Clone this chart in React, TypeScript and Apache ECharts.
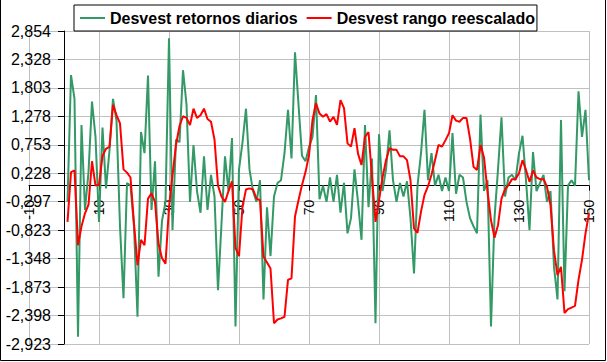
import React, { useEffect, useRef } from "react";
import * as echarts from "echarts";

const seriesNames = ["Desvest retornos diarios", "Desvest rango reescalado"];

const retornosDiarios = [
  -0.3, 2.04, 1.6, -2.79, 1.12, -0.45, 0.25, 1.55, 0.9, -0.67,
  1.07, -0.05, 0.65, 1.6, 1.2, -0.75, -2.08, 0.05, 0.0, -0.75,
  -2.42, 0.99, 0.6, 2.03, -0.45, 0.45, -1.68, -0.65, -0.3, 2.72,
  -0.82, 0.85, 0.8, 2.13, 1.5, -0.3, 0.75, -0.1, -0.5, 0.54,
  -0.45, 0.2, -0.2, -1.93, -0.7, 0.54, -0.1, 0.88, -2.6, 0.3,
  0.8, 1.42, 0.3, -0.1, -0.3, 0.1, -2.1, -0.4, -1.3, -0.2,
  0.05, 0.1, 0.6, 1.4, 0.5, 2.46, 1.5, 0.55, 0.45, 0.71,
  0.9, 1.67, -0.25, 0.0, -0.3, 0.15, -0.3, 0.2, -0.5, 0.05,
  -0.88, -0.6, 0.3, -0.3, -1.0, 1.12, -0.4, 0.5, -2.54, 0.95,
  -0.1, 0.3, 1.02, 0.1, -0.3, 0.05, -0.2, 0.08, -0.6, -1.62,
  0.0, 0.6, 1.4, 0.1, 0.6, 0.0, 0.2, -0.1, 0.15, -0.1,
  0.97, -0.15, 0.2, 0.15, -0.3, -0.6, -0.75, -0.88, 1.31, -0.1,
  0.1, -2.6, -0.6, 0.3, 1.26, -0.2, 0.15, 0.2, 0.1, 0.6,
  0.92, 0.1, -0.82, 0.62, -0.1, 0.05, 0.2, -0.3, -0.1, -1.5,
  -2.1, 1.21, -1.95, 0.0, 0.1, 0.0, 1.74, 0.9, 1.4, 0.1,
];

const rangoReescalado = [
  -0.67, 0.25, 0.28, -1.1, -0.75, -0.51, -0.35, 0.45, 0.0, 0.02,
  0.55, 0.68, 0.72, 1.49, 1.3, 1.15, 0.3, 0.24, 0.15, -0.7,
  -1.47, -1.0, -1.1, -0.24, -0.14, -0.3, -1.07, -1.34, -1.44, -0.4,
  0.2, 0.75, 1.1, 1.28, 1.25, 1.12, 1.42, 1.25, 1.3, 1.42,
  1.23, 1.18, 0.85, 0.0, -0.2, -0.3, -0.1, 0.08, -1.15, -1.3,
  -0.39, -0.07, -0.05, -0.07, -0.24, -0.27, -1.31, -1.42, -1.53, -2.54,
  -2.47, -2.45, -2.42, -1.74, -1.71, -0.57, -0.27, 0.01, 0.25, 0.56,
  1.21, 1.52, 1.33, 1.27, 1.32, 1.18, 1.27, 1.12, 1.58, 1.43,
  0.78, 0.72, 1.06, 0.59, 0.38, 0.9, 0.99, 0.16, -0.67, -0.27,
  0.15, 0.47, 0.69, 0.66, 0.66, 0.54, 0.54, 0.47, 0.1, -0.79,
  -0.87, -0.48, -0.17, -0.01, 0.2, 0.47, 0.75, 0.72, 0.84, 0.97,
  1.3, 1.2, 1.18, 1.25, 1.25, 0.87, 0.35, 0.29, 0.75, 0.52,
  -0.1, -0.64, -0.96, -0.73, -0.24, -0.07, 0.01, 0.12, 0.12, 0.23,
  0.47, 0.29, 0.07, 0.28, 0.15, 0.12, 0.12, -0.02, -0.36, -1.2,
  -1.65, -1.5, -2.35, -2.28, -2.25, -2.22, -1.74, -1.37, -0.88, -0.51,
];

const xTickLabels = ["-10", "10", "30", "50", "70", "90", "110", "130", "150"];
const yTickLabels = [
  "-2,923", "-2,398", "-1,873", "-1,348", "-0,823", "-0,297",
  "0,228", "0,753", "1,278", "1,803", "2,328", "2,854",
];

const X_MIN = -10;
const X_MAX = 150;
const X_STEP = 20;
const Y_MIN = -2.923;
const Y_MAX = 2.854;
const Y_STEP = (Y_MAX - Y_MIN) / (yTickLabels.length - 1);

const GREEN = "#339966";
const RED = "#ff0000";
const FONT = "'Liberation Sans', Arial, sans-serif";

const W = 607;
const H = 362;
const GRID = { left: 29, right: 18, top: 31, bottom: 18 };

export default function App() {
  const ref = useRef<HTMLDivElement>(null);

  useEffect(() => {
    if (!ref.current) return;
    const chart = echarts.init(ref.current, null, { renderer: "svg" });
    const toPairs = (arr: number[]) => arr.map((v, k) => [k + 1, v]);

    chart.setOption({
      animation: false,
      backgroundColor: "#ffffff",
      textStyle: { fontFamily: FONT },
      grid: { ...GRID, containLabel: false, outerBoundsMode: "none" },
      legend: {
        left: 74,
        top: 5,
        orient: "horizontal",
        padding: [5, 2, 5, 6],
        icon: "rect",
        itemWidth: 25,
        itemHeight: 2,
        itemGap: 9,
        borderColor: "#000000",
        borderWidth: 1,
        backgroundColor: "#ffffff",
        textStyle: { fontSize: 16, fontWeight: "bold", color: "#000000", fontFamily: FONT },
        data: seriesNames,
      },
      graphic: [
        {
          type: "polyline",
          shape: { points: [[0.5, 0], [0.5, 360.5], [605.5, 360.5], [605.5, 0]] },
          style: { stroke: "#000000", lineWidth: 1, fill: null },
          silent: true,
          z: 100,
        },
      ],
      xAxis: {
        type: "value",
        min: X_MIN,
        max: X_MAX,
        interval: X_STEP,
        axisLine: { show: true, onZero: false, lineStyle: { color: "#000000", width: 1 } },
        axisTick: { show: true, inside: false, length: 5, lineStyle: { color: "#000000" } },
        axisLabel: {
          rotate: 90,
          margin: 14,
          fontSize: 14,
          color: "#000000",
          fontFamily: FONT,
          formatter: (v: number) => {
            const idx = Math.round((v - X_MIN) / X_STEP);
            return xTickLabels[idx] ?? String(v);
          },
        },
        splitLine: { show: true, lineStyle: { color: "#c0c0c0", width: 1 } },
      },
      yAxis: {
        type: "value",
        min: Y_MIN,
        max: Y_MAX,
        interval: Y_STEP,
        axisLine: { show: true, onZero: false, lineStyle: { color: "#000000", width: 1 } },
        axisTick: { show: true, inside: false, length: 6, lineStyle: { color: "#000000" } },
        axisLabel: {
          margin: 13,
          fontSize: 16,
          color: "#000000",
          fontFamily: FONT,
          formatter: (v: number) => {
            const idx = Math.round((v - Y_MIN) / Y_STEP);
            return yTickLabels[idx] ?? String(v);
          },
        },
        splitLine: { show: true, lineStyle: { color: "#c0c0c0", width: 1 } },
      },
      series: [
        {
          name: seriesNames[0],
          type: "line",
          data: toPairs(retornosDiarios),
          symbol: "none",
          lineStyle: { width: 2, color: GREEN },
          itemStyle: { color: GREEN },
          z: 2,
        },
        {
          name: seriesNames[1],
          type: "line",
          data: toPairs(rangoReescalado),
          symbol: "none",
          lineStyle: { width: 2, color: RED },
          itemStyle: { color: RED },
          z: 3,
        },
      ],
    });

    // Move both axes (line, ticks and labels) to cross at the origin, as in Excel.
    const origin = chart.convertToPixel({ gridIndex: 0 }, [0, 0]) as number[];
    if (origin && isFinite(origin[0]) && isFinite(origin[1])) {
      const gridBottomPx = H - GRID.bottom;
      chart.setOption({
        xAxis: { offset: -(gridBottomPx - origin[1]) },
        yAxis: { offset: -(origin[0] - GRID.left) },
      });
    }

    return () => chart.dispose();
  }, []);

  return (
    <div
      ref={ref}
      style={{ position: "absolute", left: 0, top: 0, width: W, height: H }}
    />
  );
}
